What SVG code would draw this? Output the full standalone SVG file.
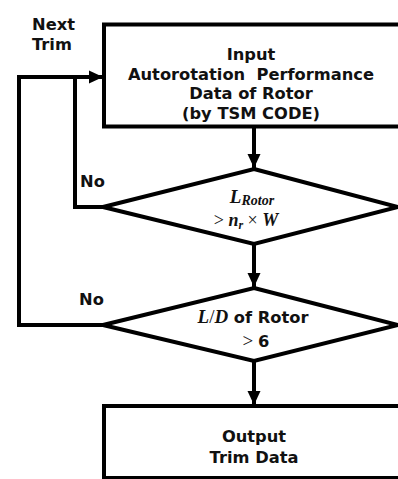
<svg xmlns="http://www.w3.org/2000/svg" width="398" height="479" viewBox="0 0 398 479">
<style>
.box{fill:#fff;stroke:#000;stroke-width:4}
.ln{fill:none;stroke:#000;stroke-width:4;stroke-linejoin:miter}
.t{font-family:"DejaVu Sans","Liberation Sans",sans-serif;font-weight:bold;font-size:16.3px;fill:#111;text-anchor:middle}
.tl{font-family:"DejaVu Sans","Liberation Sans",sans-serif;font-weight:bold;font-size:16.3px;fill:#111}
.m{font-family:"Liberation Serif","DejaVu Serif",serif;font-style:italic;font-weight:bold;fill:#111}
.r{font-family:"Liberation Serif","DejaVu Serif",serif;font-weight:normal;font-style:normal;fill:#111}
</style>
<defs>
<marker id="ah" markerUnits="userSpaceOnUse" markerWidth="16" markerHeight="16" viewBox="0 0 16 16" refX="15" refY="8" orient="auto">
<path d="M1,1.5 L15,8 L1,14.5 Z" fill="#000"/>
</marker>
</defs>
<rect width="398" height="479" fill="#fff"/>
<g id="connectors">
<path class="ln" d="M254,127 V168" marker-end="url(#ah)"/>
<path class="ln" d="M254,244 V287" marker-end="url(#ah)"/>
<path class="ln" d="M254,361 V405" marker-end="url(#ah)"/>
<path class="ln" d="M104,207 H75 V77"/>
<path class="ln" d="M104,325 H19 V77 H103" marker-end="url(#ah)"/>
</g>
<g id="input">
<rect class="box" x="104" y="24.5" width="298" height="102"/>
<text class="t" xml:space="preserve"><tspan x="251" y="60">Input</tspan><tspan x="251" y="79.5">Autorotation  Performance</tspan><tspan x="251" y="99">Data of Rotor</tspan><tspan x="251" y="118.5">(by TSM CODE)</tspan></text>
</g>
<g id="decision1">
<polygon class="box" points="254,169 398,207 254,244 103,207"/>
<text text-anchor="middle"><tspan x="252" y="203" class="m" font-size="19">L</tspan><tspan class="m" font-size="14" dy="2">Rotor</tspan></text>
<text x="246" y="226" text-anchor="middle"><tspan class="r" font-size="18">&gt; </tspan><tspan class="m" font-size="18">n</tspan><tspan class="m" font-size="12" dy="3">r</tspan><tspan class="r" font-size="18" dy="-3"> × </tspan><tspan class="m" font-size="18">W</tspan></text>
</g>
<g id="decision2">
<polygon class="box" points="254,288 398,325 254,361 103,325"/>
<text x="253" y="323" text-anchor="middle"><tspan class="m" font-size="19">L</tspan><tspan class="r" font-size="19">/</tspan><tspan class="m" font-size="19">D</tspan><tspan class="tl"> of Rotor</tspan></text>
<text x="256" y="347" text-anchor="middle"><tspan class="r" font-size="19">&gt; </tspan><tspan class="tl">6</tspan></text>
</g>
<g id="output">
<rect class="box" x="104" y="406" width="298" height="72"/>
<text class="t"><tspan x="254" y="442">Output</tspan><tspan x="254" y="463">Trim Data</tspan></text>
</g>
<g id="labels">
<text class="tl"><tspan x="32" y="30">Next</tspan><tspan x="32" y="50">Trim</tspan></text>
<text class="tl" x="80" y="187">No</text>
<text class="tl" x="79" y="305">No</text>
</g>
</svg>
